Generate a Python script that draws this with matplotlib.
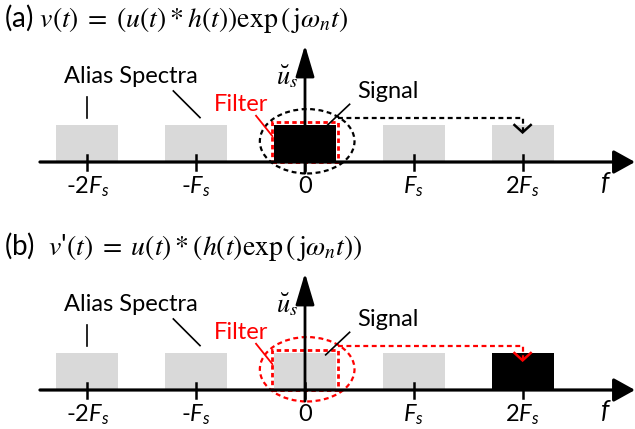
import matplotlib
matplotlib.use("Agg")
import matplotlib.pyplot as plt
from matplotlib.patches import Ellipse, Rectangle

# spectrum positions in units of Fs
centers = [-2, -1, 0, 1, 2]
heights = [1.0, 1.0, 1.0, 1.0, 1.0]
tick_labels = ["-2$F_s$", "-$F_s$", "0", "$F_s$", "2$F_s$"]
signal_index = {"a": 2, "b": 4}
titles = {
    "a": r"(a) $v(t)\;=\;\left(u(t)*h(t)\right)\exp\left(\,\mathrm{j}\omega_n t\right)$",
    "b": r"(b)  $v$'$(t)\;=\;u(t)*\left(h(t)\exp\left(\,\mathrm{j}\omega_n t\right)\right)$",
}

plt.rcParams["font.family"] = ["Lato", "DejaVu Sans"]
plt.rcParams["mathtext.fontset"] = "custom"
plt.rcParams["mathtext.rm"] = "Lato"
plt.rcParams["mathtext.it"] = "Lato:italic"

GRAY = "#d9d9d9"
RED = "#ff0000"
bar_w = 0.57
fs = 17

fig = plt.figure(figsize=(6.35, 4.29), dpi=100)
ax_a = fig.add_axes([0, (429 - 214) / 429, 1, 227 / 429])
ax_b = fig.add_axes([0, (429 - 442) / 429, 1, 227 / 429])


def draw_panel(ax, key):
    ax.set_xlim(-305 / 108.8, 330 / 108.8)
    ax.set_ylim(-52 / 37, 175 / 37)
    ax.axis("off")
    sig = signal_index[key]
    fc = ["black" if i == sig else GRAY for i in range(len(centers))]
    ax.bar(centers, heights, width=bar_w, color=fc, zorder=2)

    # filter rectangle, ellipse and shift arrow
    col = "black" if key == "a" else RED
    ax.add_patch(Ellipse((0.02, 0.56), 0.87, 1.74, fill=False, ec=col,
                         lw=1.6, ls=(0, (2.2, 1.6)), zorder=4))
    ax.add_patch(Rectangle((-0.30, 0), 0.60, 1.09, fill=False, ec=RED,
                           lw=2.0, ls=(0, (1.6, 1.2)), zorder=3))
    yl = 1.2
    tip = centers[sig] if key == "b" else centers[4]
    ax.plot([0.30, tip, tip], [yl, yl, 0.82], color=col, lw=1.6,
            ls=(0, (2.2, 1.6)), zorder=4)
    ax.plot([tip - 0.075, tip, tip + 0.075], [1.0, 0.8, 1.0], color=col,
            lw=1.8, zorder=5, solid_joinstyle="miter")

    # axes with arrows
    ax.annotate("", xy=(3.033, 0), xytext=(-2.436, 0),
                arrowprops=dict(arrowstyle="-|>,head_length=1.3,head_width=0.72",
                                mutation_scale=10, lw=2.3, color="black",
                                shrinkA=0, shrinkB=0), zorder=6)
    ax.annotate("", xy=(0, 3.16), xytext=(0, -0.3),
                arrowprops=dict(arrowstyle="-|>,head_length=1.95,head_width=0.58",
                                mutation_scale=10, lw=2.0, color="black",
                                shrinkA=0, shrinkB=0), zorder=6)
    for c, lab in zip(centers, tick_labels):
        ax.plot([c, c], [-0.22, 0.2], color="black", lw=1.8, zorder=6)
        ax.text(c, -0.66, lab, ha="center", va="center", fontsize=fs,
                math_fontfamily="custom")
    ax.text(2.76, -0.55, "f", ha="center", va="center", fontsize=fs + 2,
            style="italic")
    ax.text(-0.16, 2.32, r"$\breve{u}_s$", ha="center", va="center",
            fontsize=fs + 2, math_fontfamily="stix")

    # labels
    ax.text(-1.6, 2.32, "Alias Spectra", ha="center", va="center", fontsize=fs)
    ax.plot([-2.0, -2.0], [1.75, 1.2], color="black", lw=1.2)
    ax.plot([-1.21, -0.965], [1.92, 1.2], color="black", lw=1.2)
    ax.text(-0.59, 1.55, "Filter", ha="center", va="center", fontsize=fs,
            color=RED)
    ax.plot([-0.45, -0.30], [1.25, 0.7], color=RED, lw=1.3, zorder=5)
    ax.text(0.76, 1.9, "Signal", ha="center", va="center", fontsize=fs)
    ax.plot([0.41, 0.19], [1.56, 0.95], color="black", lw=1.2, zorder=5)

    ax.text(-2.767, 3.88, titles[key], ha="left", va="center", fontsize=fs + 3,
            math_fontfamily="stix")


draw_panel(ax_a, "a")
draw_panel(ax_b, "b")

fig.savefig("out.png", dpi=100)
